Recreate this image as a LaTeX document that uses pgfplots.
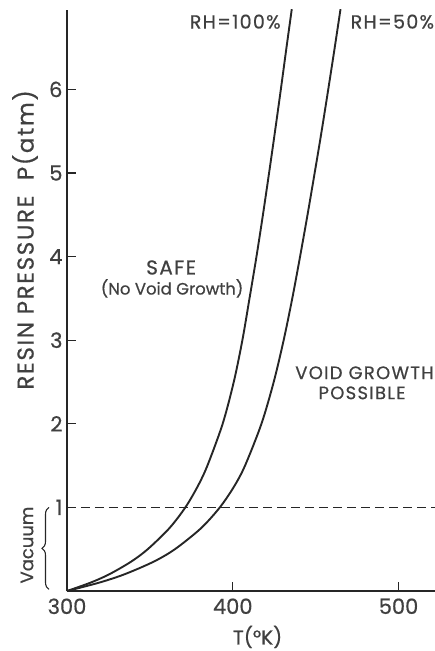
\documentclass[border=0pt]{standalone}
\usepackage{fontspec}
\setmainfont{Poppins}[FakeBold=0.6]
\newfontfamily\capsfont{Poppins}[LetterSpace=7, FakeBold=0.6]
\usepackage{pgfplots}
\pgfplotsset{compat=1.18}
\usetikzlibrary{decorations.pathreplacing}
\definecolor{ink}{gray}{0.15}
\definecolor{txt}{gray}{0.25}
\begin{document}
\begin{tikzpicture}
\begin{axis}[
  scale only axis, width=368pt, height=581pt,
  xmin=300, xmax=522, ymin=0, ymax=6.95,
  axis lines=left,
  axis line style={-, line width=1.6pt, ink},
  xtick={300,400,500}, ytick={1,2,3,4,5,6},
  tick align=inside, major tick length=9pt,
  tick style={line width=1.3pt, ink},
  ticklabel style={font=\fontsize{21}{21}\selectfont, text=txt},
  /pgf/number format/assume math mode=true,
  /pgf/number format/1000 sep={},
  xticklabel style={yshift=-4pt},
  yticklabel style={xshift=-1pt},
  clip=false,
]
\addplot[ink, line width=1.1pt, dash pattern=on 9pt off 5pt] coordinates {(300,1) (522,1)};
% RH = 100%   (T, P)
\addplot[ink, smooth, line width=1.9pt] coordinates {
(300,0) (314.2,0.1) (325.5,0.2) (338.6,0.35) (348.7,0.5) (361.7,0.75)
(371.4,1.0) (378.8,1.25) (384.7,1.5) (393.9,2.0) (400.6,2.5) (405.8,3.0)
(410.1,3.5) (414.3,4.0) (418.2,4.5) (421.9,5.0) (425.5,5.5) (429.0,6.0)
(432.4,6.5) (435.6,6.96)};
% RH = 50%   (T, P)
\addplot[ink, smooth, line width=1.9pt] coordinates {
(300,0) (319.4,0.1) (334.7,0.2) (352.2,0.35) (365.1,0.5) (380.8,0.75)
(392.2,1.0) (400.8,1.25) (407.4,1.5) (417.3,2.0) (424.7,2.5) (430.7,3.0)
(435.9,3.5) (440.6,4.0) (445.1,4.5) (449.4,5.0) (453.6,5.5) (457.6,6.0)
(461.5,6.5) (465.0,6.96)};

\node[anchor=east, text=txt, font=\capsfont\fontsize{19}{19}\selectfont] at (axis cs:431,6.81) {RH=100\%};
\node[anchor=west, text=txt, font=\capsfont\fontsize{19}{19}\selectfont] at (axis cs:469,6.81) {RH=50\%};
\node[text=txt, font=\capsfont\fontsize{20}{20}\selectfont] at (axis cs:362.8,3.87) {SAFE};
\node[text=txt, font=\fontsize{16.5}{16.5}\selectfont] at (axis cs:363.4,3.62) {(No Void Growth)};
\node[text=txt, font=\capsfont\fontsize{18}{18}\selectfont] at (axis cs:479.5,2.61) {VOID GROWTH};
\node[text=txt, font=\capsfont\fontsize{18}{18}\selectfont] at (axis cs:478,2.37) {POSSIBLE};
\node[text=txt, font=\fontsize{20}{20}\selectfont] at (axis cs:415,-0.55) {T(°K)};
\node[text=txt, rotate=90, font=\capsfont\fontsize{23}{23}\selectfont] at ([xshift=-42pt]axis cs:300,4.2) {RESIN PRESSURE\ \ P(atm)};
\node[text=txt, rotate=90, font=\fontsize{18}{18}\selectfont] at ([xshift=-40pt]axis cs:300,0.55) {Vacuum};
\draw[ink, line width=1.1pt, decorate, decoration={brace, amplitude=7pt}]
  ([xshift=-18pt]axis cs:300,0.02) -- ([xshift=-18pt]axis cs:300,1.0);
\end{axis}
\pgfresetboundingbox
\path (-67pt,-60pt) rectangle (368pt,591pt);
\end{tikzpicture}
\end{document}
